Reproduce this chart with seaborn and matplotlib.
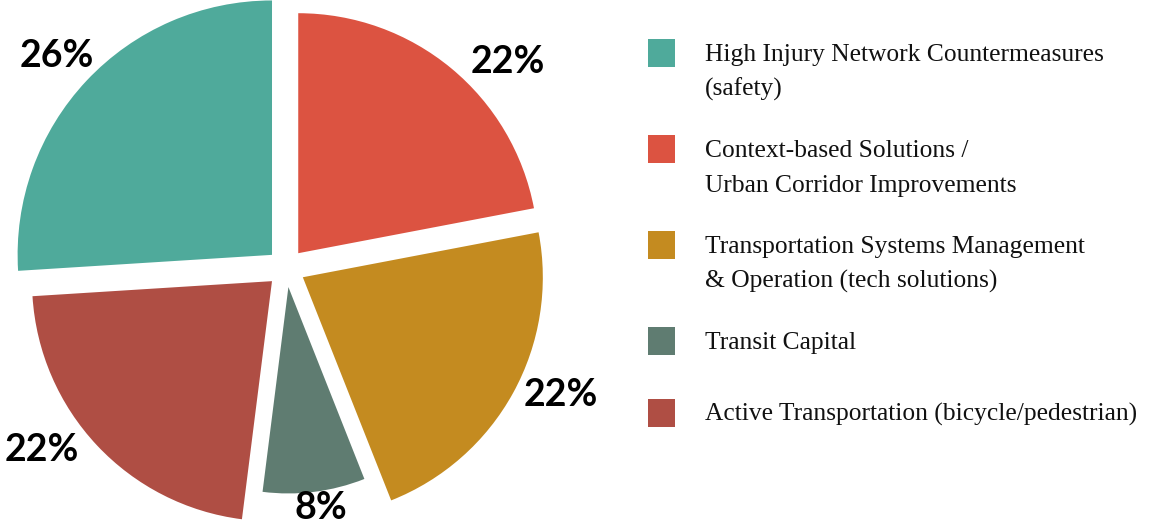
import numpy as np
import matplotlib.pyplot as plt
import seaborn as sns
from matplotlib.patches import Rectangle

# data
categories = [
    "High Injury Network Countermeasures\n(safety)",
    "Context-based Solutions /\nUrban Corridor Improvements",
    "Transportation Systems Management\n& Operation (tech solutions)",
    "Transit Capital",
    "Active Transportation (bicycle/pedestrian)",
]
shares = [26, 22, 22, 8, 22]
colors = ["#4FAA9B", "#DC5341", "#C48B20", "#5F7C71", "#AF4E44"]

# pie goes counter-clockwise from the top: teal, brown, gray, gold, red
pie_order = [0, 4, 3, 2, 1]

# style / layout
radii = [1.06, 1.0, 1.0, 0.86, 1.0]          # slices drawn at different radii
label_dist = [1.30, 1.26, 1.26, 1.01, 1.27]
label_shift = [0.5, -7.5, 4.0, 1.0, -6.5]     # degrees
legend_y = [53, 149, 245, 341, 413]           # px from top, marker centres

sns.set_style("white")
W, H = 1158, 526
fig = plt.figure(figsize=(W / 100, H / 100), dpi=100)

# pie axes: 240 px per unit, centre at (286, 268) px
ax = fig.add_axes([0, 0, 600 / W, 1])
vals = [shares[i] for i in pie_order]
cols = sns.color_palette([colors[i] for i in pie_order])
wedges, _ = ax.pie(vals, colors=cols, startangle=90, counterclock=True,
                   explode=[0.08] * len(vals), wedgeprops=dict(linewidth=0))
ax.set_xlim(-286 / 240, (600 - 286) / 240)
ax.set_ylim(-(H - 268) / 240, 268 / 240)
ax.set_aspect("equal")
ax.axis("off")

for w, i in zip(wedges, pie_order):
    w.set_radius(radii[i])
    mid = np.deg2rad((w.theta1 + w.theta2) / 2 + label_shift[i])
    d = label_dist[i]
    ax.text(d * np.cos(mid), d * np.sin(mid), f"{shares[i]}%", ha="center",
            va="center", fontsize=27, fontweight="bold", fontstyle="normal",
            family=["Lato", "DejaVu Sans"], color="black")

# legend drawn in pixel space
lax = fig.add_axes([0, 0, 1, 1])
lax.set_xlim(0, W)
lax.set_ylim(H, 0)
lax.axis("off")
lax.patch.set_alpha(0)
for lab, c, y in zip(categories, colors, legend_y):
    lax.add_patch(Rectangle((648, y - 14), 27, 28, color=c, lw=0))
    for k, line in enumerate(lab.split("\n")):
        lax.text(705, y + 8 + 35 * k, line, ha="left", va="baseline",
                 fontsize=18.4, family=["Liberation Serif", "DejaVu Serif"],
                 color="#111111")

fig.savefig("out.png", dpi=100)
